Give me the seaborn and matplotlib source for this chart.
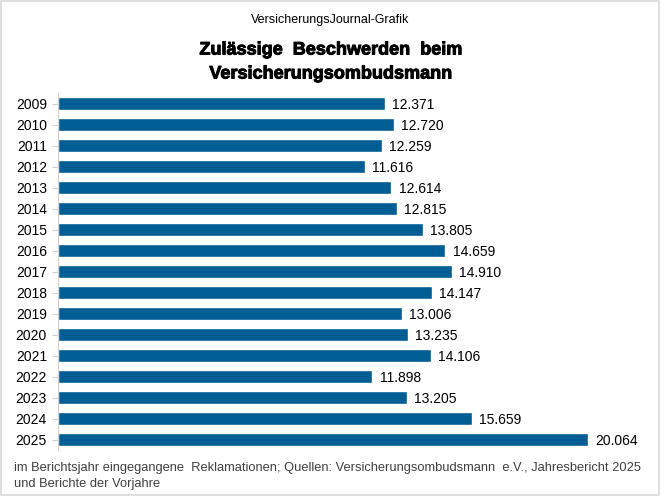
import matplotlib
matplotlib.use("Agg")
import matplotlib.pyplot as plt
import matplotlib.patheffects as pe
import seaborn as sns
import pandas as pd
from matplotlib.patches import Rectangle

# Data
years = ['2009', '2010', '2011', '2012', '2013', '2014', '2015', '2016', '2017',
         '2018', '2019', '2020', '2021', '2022', '2023', '2024', '2025']
complaints = [12371, 12720, 12259, 11616, 12614, 12815, 13805, 14659, 14910,
              14147, 13006, 13235, 14106, 11898, 13205, 15659, 20064]

df = pd.DataFrame({'Jahr': years, 'Beschwerden': complaints})

sns.set_theme(style='white')
plt.rcParams['font.family'] = ['Liberation Sans', 'DejaVu Sans']

bar_color = '#005e94'

fig = plt.figure(figsize=(6.61, 4.96), dpi=100)
ax = fig.add_axes([58 / 661, 1 - 450 / 496, (640 - 58) / 661, (450 - 93) / 496])

sns.barplot(data=df, x='Beschwerden', y='Jahr', color=bar_color, width=0.62,
            saturation=1, ax=ax)

ax.set_xlim(0, 22030)
ax.set_xlabel('')
ax.set_ylabel('')
ax.set_xticks([])
for side in ['top', 'right', 'bottom']:
    ax.spines[side].set_visible(False)
ax.spines['left'].set_color('#d0d0d0')
ax.spines['left'].set_linewidth(0.8)
ax.tick_params(axis='y', length=4, width=0.8, color='#d0d0d0', labelsize=10,
               labelcolor='black', pad=4, left=True)
for lbl in ax.get_yticklabels():
    lbl.set_verticalalignment('center_baseline')

# value labels with German thousands separator
for i, v in enumerate(complaints):
    label = f'{v:,}'.replace(',', '.')
    ax.text(v + 280, i, label, va='center_baseline', ha='left', fontsize=10,
            color='black')

fig.text(0.5, 1 - 18 / 496, 'VersicherungsJournal-Grafik', ha='center',
         va='center_baseline', fontsize=9, color='black')
title_fx = [pe.withStroke(linewidth=0.7, foreground='black')]
fig.text(0.5, 1 - 48 / 496, 'Zulässige  Beschwerden  beim', ha='center',
         va='center_baseline', fontsize=13, fontweight='bold', color='black',
         path_effects=title_fx)
fig.text(0.5, 1 - 72 / 496, 'Versicherungsombudsmann', ha='center',
         va='center_baseline', fontsize=13, fontweight='bold', color='black',
         path_effects=title_fx)

fig.text(14 / 661, 1 - 467 / 496,
         'im Berichtsjahr eingegangene  Reklamationen; Quellen: Versicherungsombudsmann  e.V., Jahresbericht 2025',
         ha='left', va='center_baseline', fontsize=9.3, color='#404040')
fig.text(14 / 661, 1 - 483 / 496, 'und Berichte der Vorjahre',
         ha='left', va='center_baseline', fontsize=9.3, color='#404040')

# light frame around the whole graphic
fig.patches.append(Rectangle((0.002, 0.002), 0.995, 0.995, transform=fig.transFigure,
                             fill=False, edgecolor='#d9d9d9', linewidth=1.2))

fig.savefig('out.png', dpi=100)
